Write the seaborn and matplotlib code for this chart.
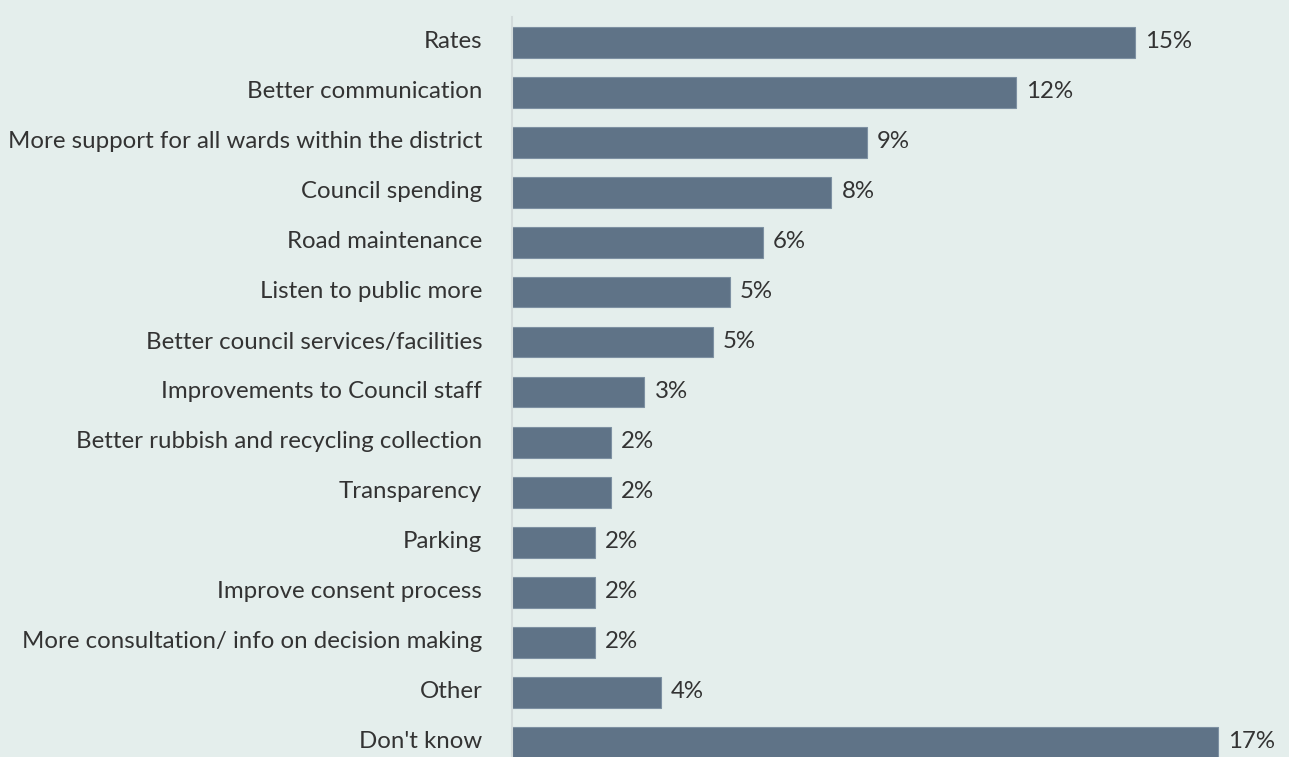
import matplotlib
matplotlib.use("Agg")
import matplotlib.pyplot as plt
import matplotlib.transforms as mtransforms
import seaborn as sns
import pandas as pd

categories = [
    "Rates",
    "Better communication",
    "More support for all wards within the district",
    "Council spending",
    "Road maintenance",
    "Listen to public more",
    "Better council services/facilities",
    "Improvements to Council staff",
    "Better rubbish and recycling collection",
    "Transparency",
    "Parking",
    "Improve consent process",
    "More consultation/ info on decision making",
    "Other",
    "Don't know",
]
percent = [15.0, 12.15, 8.55, 7.7, 6.05, 5.25, 4.85, 3.2, 2.4, 2.4, 2.0, 2.0, 2.0, 3.6, 17.0]

BG = "#e4eeec"
BAR = "#5f7387"
TEXT = "#333333"

sns.set_theme(style="white")
plt.rcParams["font.family"] = ["Lato", "DejaVu Sans"]

df = pd.DataFrame({"category": categories, "percent": percent})

fig = plt.figure(figsize=(12.89, 7.57), dpi=100, facecolor=BG)
W, H = 1289, 757
px_per_pct = 41.55
left_px, top_px, bottom_px = 511.5, 17, 767
ax = fig.add_axes([left_px / W, (H - bottom_px) / H, (W - left_px) / W, (bottom_px - top_px) / H])
ax.set_facecolor(BG)

sns.barplot(data=df, x="percent", y="category", orient="h", color=BAR,
            width=0.62, edgecolor="#7d90a2", linewidth=0.8, saturation=1, ax=ax)

for i, v in enumerate(percent):
    ax.text(v + 10 / px_per_pct, i, f"{v:.0f}%", va="center", ha="left",
            fontsize=17.3, color=TEXT, fontweight="normal")

ax.set_xlim(0, (W - left_px) / px_per_pct)
ax.set_ylim(len(categories) - 0.5, -0.5)
ax.set_xlabel("")
ax.set_ylabel("")
ax.set_xticks([])
ax.tick_params(axis="y", length=0, pad=21)
lift = mtransforms.ScaledTranslation(0, 2 / 100, fig.dpi_scale_trans)
for lab in ax.get_yticklabels():
    lab.set_fontsize(17.3)
    lab.set_color(TEXT)
    lab.set_fontweight("normal")
    lab.set_transform(lab.get_transform() + lift)
for s in ["top", "right", "bottom"]:
    ax.spines[s].set_visible(False)
ax.spines["left"].set_color("#d3dbdb")
ax.spines["left"].set_linewidth(1.5)

fig.savefig("out.png", dpi=100, facecolor=BG)
